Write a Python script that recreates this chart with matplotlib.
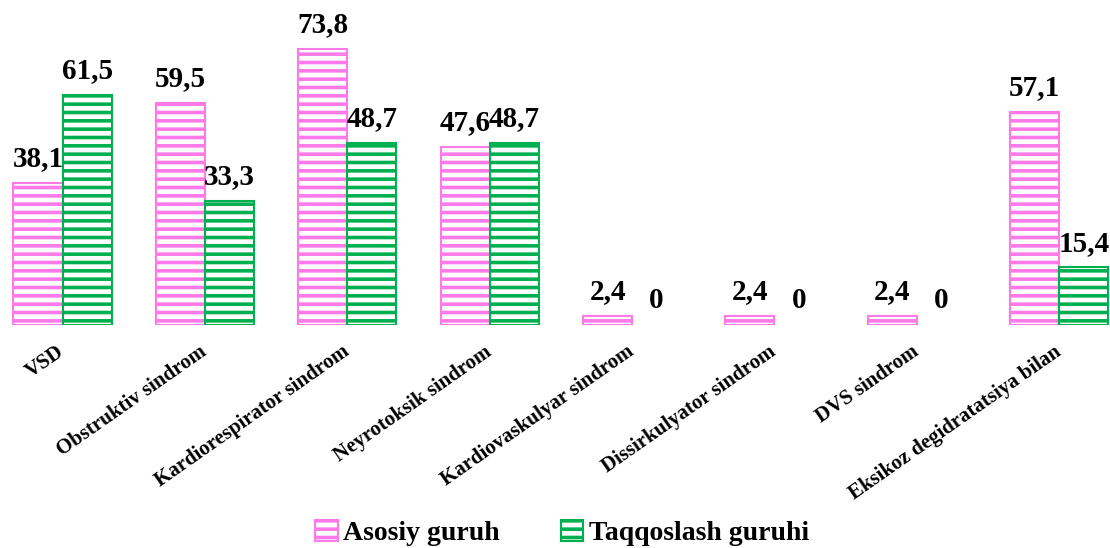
import numpy as np
import matplotlib.pyplot as plt
import matplotlib.transforms as mtrans

plt.rcParams['font.family'] = ['Liberation Serif', 'DejaVu Serif']
plt.rcParams['font.weight'] = 'bold'
plt.rcParams['hatch.linewidth'] = 2.6

# Ma'lumotlar
kategoriyalar = ['VSD', 'Obstruktiv sindrom', 'Kardiorespirator sindrom',
                 'Neyrotoksik sindrom', 'Kardiovaskulyar sindrom',
                 'Dissirkulyator sindrom', 'DVS sindrom',
                 'Eksikoz degidratatsiya bilan']
asosiy = [38.1, 59.5, 73.8, 47.6, 2.4, 2.4, 2.4, 57.1]
taqqoslash = [61.5, 33.3, 48.7, 48.7, 0, 0, 0, 15.4]
seriya_nomlari = ['Asosiy guruh', 'Taqqoslash guruhi']

pushti = '#FF7AE8'
yashil = '#00B050'

fig = plt.figure(figsize=(11.1, 5.48), dpi=100)
ax = fig.add_axes([-8.7 / 1110, 0.407, 8 * 142.4 / 1110, 299 / 548])

x = np.arange(len(kategoriyalar))
w = 0.345

b1 = ax.bar(x - w / 2, asosiy, w, color='white', edgecolor=pushti,
            hatch='--', linewidth=1.5, label=seriya_nomlari[0])
b2 = ax.bar(x + w / 2, taqqoslash, w, color='white', edgecolor=yashil,
            hatch='--', linewidth=1.5, label=seriya_nomlari[1])

# nol qiymatli ustunlar ko'rinmasin
for bars, vals in [(b1, asosiy), (b2, taqqoslash)]:
    for bar, v in zip(bars, vals):
        if v == 0:
            bar.set_visible(False)

# Qiymat yorliqlari
for bars, vals in [(b1, asosiy), (b2, taqqoslash)]:
    for bar, v in zip(bars, vals):
        matn = ('%.1f' % v).replace('.', ',') if v != 0 else '0'
        ax.annotate(matn, (bar.get_x() + bar.get_width() / 2, v),
                    xytext=(0, 12), textcoords='offset points',
                    ha='center', va='baseline', fontsize=21, fontweight='bold')

ax.set_xlim(-0.5, len(kategoriyalar) - 0.5)
ax.set_ylim(0, 80)
ax.set_xticks(x)
ax.set_xticklabels(kategoriyalar, rotation=35, ha='right',
                   rotation_mode='anchor', fontsize=15, fontweight='bold')
ax.tick_params(axis='x', length=0, pad=12)
siljish = mtrans.ScaledTranslation(-6 / 100, 0, fig.dpi_scale_trans)
for lbl in ax.get_xticklabels():
    lbl.set_transform(lbl.get_transform() + siljish)
ax.set_yticks([])
for s in ax.spines.values():
    s.set_visible(False)

fig.legend(loc='center', bbox_to_anchor=(562 / 1110, 1 - 533 / 548), ncol=2,
           frameon=False, prop={'size': 20, 'weight': 'bold'},
           handlelength=0.8, handleheight=0.8, handletextpad=0.2,
           columnspacing=2.2)

fig.savefig('out.png', dpi=100)
